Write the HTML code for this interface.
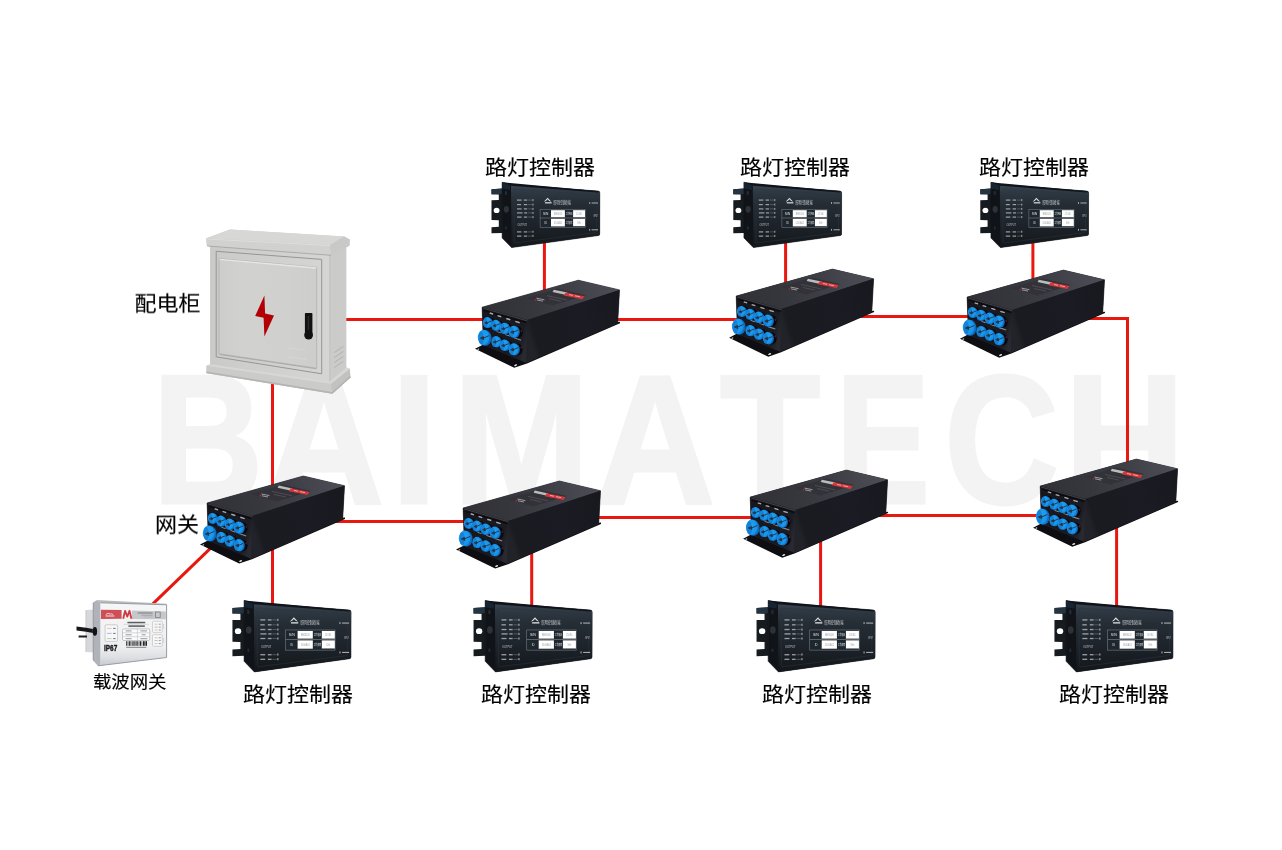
<!DOCTYPE html>
<html lang="zh-CN">
<head>
<meta charset="utf-8">
<title>路灯控制器 组网示意图</title>
<style>
html,body{margin:0;padding:0;background:#fff;}
body{width:1282px;height:850px;overflow:hidden;position:relative;font-family:"Liberation Sans","Noto Sans CJK SC",sans-serif;color:#000;}
#stage{will-change:transform;position:absolute;left:0;top:0;width:1282px;height:850px;overflow:hidden;background:#fff;}
#stage svg{position:absolute;left:0;top:0;display:block;}
.lb{-webkit-text-stroke:0.15px #000;transform:scaleY(0.94);transform-origin:50% 50%;position:absolute;white-space:nowrap;font-size:22px;line-height:22px;height:22px;color:#000;font-weight:400;letter-spacing:0;}
.lb.s{font-size:18.4px;line-height:18.4px;height:18.4px;}
svg text{font-family:"Liberation Sans","Noto Sans CJK SC",sans-serif;}
</style>
</head>
<body>
<div id="stage">
<svg width="1282" height="850" viewBox="0 0 1282 850">
<defs>
<linearGradient id="gTop" gradientUnits="userSpaceOnUse" x1="485" y1="310" x2="615" y2="288">
  <stop offset="0" stop-color="#313137"/>
  <stop offset="0.35" stop-color="#36363d"/>
  <stop offset="0.6" stop-color="#3d3d45"/>
  <stop offset="0.85" stop-color="#47474f"/>
  <stop offset="1" stop-color="#4c4c54"/>
</linearGradient>
<linearGradient id="gSide" gradientUnits="userSpaceOnUse" x1="527" y1="330" x2="619" y2="300">
  <stop offset="0" stop-color="#222229"/>
  <stop offset="0.06" stop-color="#1a1a21"/>
  <stop offset="0.6" stop-color="#1b1b23"/>
  <stop offset="1" stop-color="#18181f"/>
</linearGradient>
<linearGradient id="gFront" gradientUnits="userSpaceOnUse" x1="483" y1="330" x2="527" y2="342">
  <stop offset="0" stop-color="#17171d"/>
  <stop offset="0.85" stop-color="#1b1b22"/>
  <stop offset="1" stop-color="#292931"/>
</linearGradient>
<radialGradient id="gBlue" cx="0.42" cy="0.42" r="0.7">
  <stop offset="0" stop-color="#22a2f2"/>
  <stop offset="0.7" stop-color="#1896ec"/>
  <stop offset="1" stop-color="#0d78d0"/>
</radialGradient>
<linearGradient id="gCtrl" x1="0" y1="0" x2="0" y2="1">
  <stop offset="0" stop-color="#3a4752"/>
  <stop offset="0.12" stop-color="#2e3943"/>
  <stop offset="0.3" stop-color="#252d35"/>
  <stop offset="0.6" stop-color="#1e242b"/>
  <stop offset="1" stop-color="#13171b"/>
</linearGradient>
<linearGradient id="gCabFront" gradientUnits="userSpaceOnUse" x1="219" y1="300" x2="317" y2="300">
  <stop offset="0" stop-color="#cdcdcb"/>
  <stop offset="0.25" stop-color="#d1d1cf"/>
  <stop offset="0.7" stop-color="#d0d0ce"/>
  <stop offset="1" stop-color="#cdcdcb"/>
</linearGradient>
<linearGradient id="gCabBody" gradientUnits="userSpaceOnUse" x1="210" y1="300" x2="330" y2="300">
  <stop offset="0" stop-color="#cacac8"/>
  <stop offset="0.5" stop-color="#d0d0ce"/>
  <stop offset="1" stop-color="#d5d5d3"/>
</linearGradient>
<linearGradient id="gGw" x1="0" y1="0" x2="0" y2="1">
  <stop offset="0" stop-color="#f6f6f6"/>
  <stop offset="0.7" stop-color="#eeeff0"/>
  <stop offset="0.88" stop-color="#dcdee2"/>
  <stop offset="1" stop-color="#c4c8ce"/>
</linearGradient>
<filter id="soft" x="-5%" y="-5%" width="110%" height="110%" color-interpolation-filters="sRGB"><feGaussianBlur stdDeviation="0.45"/></filter>
<g id="box">
<path d="M475.0,348.8L483.4,344.4L526.1,361.8L617.6,322.0L620.0,321.8L620.0,323.2L527.0,363.4L514.2,367.8Z" fill="#0d0d12"/>
<polygon points="482.1,307.2 578.3,280.2 619.5,289.9 617.7,322.9 526.1,362.6 483.4,344.7" fill="#202028" stroke="#202028" stroke-width="0.6" stroke-linejoin="round"/>
<polygon points="482.1,307.2 578.3,280.2 619.5,289.9 527.2,320.1" fill="url(#gTop)"/>
<polygon points="482.1,307.2 527.2,320.1 526.1,362.6 483.4,344.7" fill="url(#gFront)"/>
<polygon points="527.2,320.1 619.5,289.9 617.7,322.9 526.1,362.6" fill="url(#gSide)"/>
<path d="M483.2,308.2L527.0,320.8" fill="none" stroke="#4a4a52" stroke-width="0.8"/>
<path d="M484.0,310.4L526.4,322.6" fill="none" stroke="#0c0c10" stroke-width="1.6"/>
<polygon points="527.0,298.2 557.5,288.6 586.0,295.2 552.0,305.6" fill="#323238"/>
<polygon points="553.8,289.8 567.4,292.6 566.2,295.0 552.6,292.0" fill="#b9bdbd"/>
<polygon points="565.6,292.4 584.4,296.2 582.4,299.2 563.8,295.4" fill="#d9363b"/>
<path d="M569.0,294.6l4.0,0.8M575.0,295.8l5.0,1.0" stroke="#e9b0b2" stroke-width="0.9" fill="none"/>
<path d="M534.6,299.8l1.6,0.3" stroke="#d0262c" stroke-width="1.1" fill="none"/>
<path d="M536.4,298.2l8.0,1.6M537.0,300.0l6.0,1.2" stroke="#b4b4b8" stroke-width="0.8" fill="none"/>
<path d="M547.0,295.6l20,4.4M549.0,298.6l12,2.6" stroke="#5c5c62" stroke-width="0.6" fill="none"/>
<g fill="#c2c2c8" opacity="0.85">
<rect x="489.6" y="312.8" width="3.6" height="1.4" transform="rotate(17 491.4 313.5)"/>
<rect x="497.5" y="315.5" width="3.8" height="1.4" transform="rotate(17 499.4 316.2)"/>
<rect x="506.2" y="318.4" width="4.2" height="1.4" transform="rotate(17 508.3 319.1)"/>
<rect x="515.2" y="321.4" width="4.6" height="1.4" transform="rotate(17 517.5 322.1)"/>
</g>
<g fill="#8a8a94">
<rect x="496.4" y="331.6" width="4.4" height="1.0" transform="rotate(19 498.6 332.1)"/>
<rect x="505.2" y="334.8" width="5.0" height="1.0" transform="rotate(19 507.7 335.3)"/>
<rect x="513.8" y="338.4" width="7.6" height="1.1" transform="rotate(19 517.6 339.0)"/>
</g>
<g fill="#08080c">
<ellipse cx="490.4" cy="323.0" rx="4.6" ry="5.6"/>
<ellipse cx="498.6" cy="325.8" rx="4.6" ry="5.6"/>
<ellipse cx="507.4" cy="328.8" rx="4.7" ry="5.7"/>
<ellipse cx="517.4" cy="332.2" rx="5.2" ry="6.0"/>
<ellipse cx="499.0" cy="342.0" rx="4.6" ry="5.6"/>
<ellipse cx="507.4" cy="345.6" rx="4.7" ry="5.7"/>
<ellipse cx="517.4" cy="349.6" rx="5.2" ry="6.0"/>
</g>
<ellipse cx="521.3" cy="330.9" rx="0.7" ry="1.3" fill="#5e1818"/>
<ellipse cx="521.3" cy="347.4" rx="0.7" ry="1.3" fill="#5e1818"/>
<g fill="#0c6cc0">
<ellipse cx="488.4" cy="322.8" rx="4.4" ry="5.3"/>
<ellipse cx="496.8" cy="325.6" rx="4.5" ry="5.4"/>
<ellipse cx="505.5" cy="328.7" rx="4.7" ry="5.6"/>
<ellipse cx="514.8" cy="332.1" rx="5.0" ry="6.0"/>
<ellipse cx="485.4" cy="338.0" rx="6.1" ry="7.8"/>
<ellipse cx="497.1" cy="341.9" rx="4.6" ry="5.5"/>
<ellipse cx="505.5" cy="345.5" rx="4.7" ry="5.6"/>
<ellipse cx="514.8" cy="349.6" rx="5.0" ry="6.0"/>
</g>
<g fill="url(#gBlue)">
<ellipse cx="487.2" cy="322.4" rx="4.3" ry="5.3"/>
<ellipse cx="495.6" cy="325.2" rx="4.4" ry="5.4"/>
<ellipse cx="504.3" cy="328.3" rx="4.6" ry="5.6"/>
<ellipse cx="513.6" cy="331.7" rx="4.9" ry="6.0"/>
<ellipse cx="483.7" cy="337.5" rx="5.9" ry="7.8"/>
<ellipse cx="495.9" cy="341.5" rx="4.5" ry="5.5"/>
<ellipse cx="504.3" cy="345.1" rx="4.6" ry="5.6"/>
<ellipse cx="513.6" cy="349.2" rx="4.9" ry="6.0"/>
</g>
<g fill="#0b6ec6" opacity="0.55">
<ellipse cx="485.4" cy="322.8" rx="1.9" ry="4.8"/>
<ellipse cx="493.7" cy="325.6" rx="2.0" ry="4.9"/>
<ellipse cx="502.4" cy="328.7" rx="2.0" ry="5.1"/>
<ellipse cx="511.5" cy="332.1" rx="2.2" ry="5.4"/>
<ellipse cx="481.2" cy="338.0" rx="2.6" ry="6.8"/>
<ellipse cx="494.0" cy="341.9" rx="2.0" ry="5.0"/>
<ellipse cx="502.4" cy="345.5" rx="2.0" ry="5.1"/>
<ellipse cx="511.5" cy="349.6" rx="2.2" ry="5.4"/>
</g>
<g fill="#2a3340" stroke="#2a3340" stroke-width="0.95" stroke-linecap="round" stroke-linejoin="round">
<path d="M485.0,322.8L486.9,321.7L487.2,323.6ZM487.1,322.8L490.9,321.2"/>
<path d="M493.4,325.6L495.3,324.5L495.6,326.5ZM495.5,325.6L499.4,323.9"/>
<path d="M501.9,328.7L504.0,327.6L504.3,329.6ZM504.2,328.7L508.3,327.0"/>
<path d="M511.1,332.1L513.3,330.9L513.6,333.1ZM513.5,332.1L517.8,330.3"/>
<path d="M480.7,338.0L483.3,336.6L483.7,339.2ZM483.6,338.0L488.8,335.8"/>
<path d="M493.6,341.9L495.6,340.8L495.9,342.8ZM495.8,341.9L499.8,340.2"/>
<path d="M501.9,345.5L504.0,344.4L504.3,346.4ZM504.2,345.5L508.3,343.8"/>
<path d="M511.1,349.6L513.3,348.4L513.6,350.6ZM513.5,349.6L517.8,347.8"/>
</g>
<ellipse cx="478.3" cy="349.2" rx="1.0" ry="0.6" fill="#d0d0d0" transform="rotate(-25 478.3 349.2)"/>
<ellipse cx="515.6" cy="365.2" rx="1.6" ry="0.8" fill="#e8e8e8" transform="rotate(-22 515.6 365.2)"/>

</g>
<g id="ctrl">
<path d="M-19.5,4.9L-8.4,4.3V48.6L-19.5,48.9V42.9L-12.2,42.4V36.0L-19.5,35.8V16.0L-12.2,15.8V10.2L-19.5,10.0Z" fill="#161b20"/>
<path d="M-19.5,4.9L-8.4,4.3V9.8L-19.5,10.0Z" fill="#243440"/>
<ellipse cx="-14.4" cy="26.1" rx="2.9" ry="2.6" fill="#ffffff"/>
<path d="M-8.9,-2.0L0,0L87.2,6.8Q88.8,7.0 88.8,8.6L88.7,49.6Q88.7,51.1 87.2,51.3L0.5,63.3L-8.9,53.6Z" fill="#101317" stroke="#101317" stroke-width="0.5"/>
<path d="M-8.9,-2.0L-1.0,-0.2V5.6L-8.9,4.2Z" fill="#172432"/>
<path d="M0,0L87.2,6.8Q88.8,7.0 88.8,8.6L88.7,49.6Q88.7,51.1 87.2,51.3L0.5,63.3Z" fill="url(#gCtrl)"/>
<path d="M-8.9,-2.0L88.0,6.9L87.4,8.2L0,1.4Z" fill="#10141a"/>
<path d="M4.0,5.0L84.6,10.6Q85.8,10.8 85.8,12.0L85.7,47.0Q85.7,48.2 84.6,48.4L4.4,58.6Q3.2,58.7 3.2,57.4L3.0,6.0Q3.0,5.0 4.0,5.0Z" fill="none" stroke="#2c343c" stroke-width="0.5"/>
<ellipse cx="-4.6" cy="25.0" rx="2.6" ry="3.4" fill="#2c3238"/>
<ellipse cx="-5.0" cy="8.6" rx="1.2" ry="2.2" fill="#242a32"/>
<ellipse cx="-5.0" cy="43.6" rx="1.0" ry="1.8" fill="#242a32"/>
<g fill="#b0b6bc" opacity="0.85">
<rect x="6.0" y="15.2" width="4.6" height="1.2"/><rect x="12.8" y="15.2" width="3.4" height="1.2"/><rect x="21.4" y="14.8" width="1.1" height="2.0"/>
<rect x="6.0" y="19.7" width="4.0" height="1.2"/><rect x="12.8" y="19.7" width="3.4" height="1.2"/><rect x="21.4" y="19.3" width="1.1" height="2.0"/>
<rect x="6.0" y="24.0" width="4.6" height="1.2"/><rect x="12.8" y="24.0" width="3.4" height="1.2"/><rect x="21.4" y="23.6" width="1.1" height="2.0"/>
<rect x="6.0" y="28.0" width="5.6" height="1.2"/><rect x="13.2" y="28.0" width="3.0" height="1.2"/><rect x="21.4" y="27.6" width="1.1" height="2.0"/>
<rect x="6.0" y="32.2" width="4.6" height="1.2"/><rect x="12.8" y="32.2" width="3.4" height="1.2"/><rect x="21.4" y="31.8" width="1.1" height="2.0"/>
<rect x="6.0" y="47.0" width="4.4" height="1.2"/><rect x="12.8" y="47.0" width="3.4" height="1.2"/><rect x="21.4" y="46.4" width="1.1" height="2.0"/>
<rect x="6.0" y="51.2" width="4.4" height="1.2"/><rect x="12.8" y="51.2" width="3.4" height="1.2"/><rect x="21.4" y="50.6" width="1.1" height="2.0"/>
</g>
<g stroke="#7c8288" stroke-width="0.5" fill="none">
<path d="M17,15.8h4M17,20.3h4M17,24.6h4M17,28.6h4M17,32.8h4M17,47.6h4M17,51.8h4"/>
</g>
<text x="6.6" y="41.4" font-size="3.6" fill="#c4c8cc" textLength="9.4" lengthAdjust="spacingAndGlyphs">OUTPUT</text>
<path d="M32.8,17.4L36.6,13.4L40.4,17.4L38.2,16.6L36.6,15.0L35.0,16.6Z" fill="#dcdee0"/>
<rect x="34.0" y="17.8" width="6.6" height="1.4" fill="#c4c7ca"/>
<text x="42.6" y="19.3" font-size="4.6" fill="#cfd2d4" textLength="17.2" lengthAdjust="spacingAndGlyphs" style="font-family:'Liberation Sans','Noto Sans CJK SC',sans-serif">照明控制终端</text>
<rect x="29.1" y="25.0" width="45.1" height="18.4" fill="#1e262e" stroke="#7c8690" stroke-width="0.5"/>
<path d="M29.1,33.7H74.2" stroke="#7c8288" stroke-width="0.6"/>
<rect x="40.0" y="25.9" width="13.9" height="7.0" fill="#ffffff"/>
<rect x="62.1" y="25.9" width="11.9" height="7.0" fill="#ffffff"/>
<rect x="40.0" y="34.5" width="13.9" height="7.6" fill="#ffffff"/>
<rect x="62.1" y="34.5" width="11.9" height="7.4" fill="#ffffff"/>
<g font-size="3.6" fill="#e4e6e8">
<text x="32.0" y="30.6" textLength="5.4" lengthAdjust="spacingAndGlyphs">S/N</text>
<text x="33.6" y="39.6" textLength="2.4" lengthAdjust="spacingAndGlyphs">ID</text>
</g>
<g font-size="3.4" fill="#e4e6e8" style="font-family:'Liberation Sans','Noto Sans CJK SC',sans-serif">
<text x="54.8" y="30.5" textLength="6.6" lengthAdjust="spacingAndGlyphs">工作电压</text>
<text x="54.8" y="39.5" textLength="6.6" lengthAdjust="spacingAndGlyphs">工作频率</text>
</g>
<g font-size="3.2" fill="#9a9ea4">
<text x="43.0" y="30.4" textLength="8.2" lengthAdjust="spacingAndGlyphs">BM3020</text>
<text x="43.0" y="39.5" textLength="8.2" lengthAdjust="spacingAndGlyphs">0100A01</text>
<text x="65.0" y="30.4" textLength="6.0" lengthAdjust="spacingAndGlyphs">220 VAC</text>
<text x="66.2" y="39.5" textLength="3.6" lengthAdjust="spacingAndGlyphs">50Hz</text>
</g>
<g fill="#a8acb0">
<rect x="78.2" y="17.8" width="1.0" height="1.8"/><rect x="80.6" y="18.2" width="6.4" height="1.0"/>
<rect x="78.2" y="44.6" width="1.0" height="1.8"/><rect x="80.6" y="45.0" width="6.4" height="1.0"/>
</g>
<text x="82.6" y="32.8" font-size="2.6" fill="#c0c4c8" textLength="4.2" lengthAdjust="spacingAndGlyphs">INPUT</text>

</g>
</defs>
<rect x="0" y="0" width="1282" height="850" fill="#ffffff"/>
<text y="502.9" font-size="183.4" font-weight="700" fill="#f3f3f3" stroke="#f3f3f3" stroke-width="3.0" stroke-linejoin="miter" style="font-family:'Liberation Sans',sans-serif"><tspan x="152.5" textLength="110.6" lengthAdjust="spacingAndGlyphs">B</tspan><tspan x="263.9" textLength="120.0" lengthAdjust="spacingAndGlyphs">A</tspan><tspan x="391.0" textLength="46.1" lengthAdjust="spacingAndGlyphs">I</tspan><tspan x="452.9" textLength="136.5" lengthAdjust="spacingAndGlyphs">M</tspan><tspan x="594.9" textLength="120.2" lengthAdjust="spacingAndGlyphs">A</tspan><tspan x="720.1" textLength="100.1" lengthAdjust="spacingAndGlyphs">T</tspan><tspan x="836.1" textLength="93.8" lengthAdjust="spacingAndGlyphs">E</tspan><tspan x="944.2" textLength="114.7" lengthAdjust="spacingAndGlyphs">C</tspan><tspan x="1064.2" textLength="120.8" lengthAdjust="spacingAndGlyphs">H</tspan></text>
<g fill="none" stroke="#e8170f" stroke-width="3">
<path d="M340,319.6H490"/>
<path d="M610,319.6H745"/>
<path d="M856,316.5H975"/>
<path d="M1082,318.5H1127.5V470"/>
<path d="M272.5,375V610"/>
<path d="M330,521.5H470"/>
<path d="M590,517.5H757"/>
<path d="M875,515.4H1047"/>
<path d="M531.7,545V610"/>
<path d="M820.6,535V610"/>
<path d="M1116.6,520V610"/>
<path d="M544.4,240V295"/>
<path d="M785.6,240V285"/>
<path d="M1032.9,240V280"/>
<path d="M214,544.9L150,606.6"/>
</g>
<g filter="url(#soft)">
<g id="cabinet">
<polygon points="206.2,238.2 230.0,229.5 344.1,236.6 349.8,239.6 349.4,245.8 346.2,247.2 346.2,367.6 349.8,368.8 350.4,377.4 332.3,393.8 206.5,373.2 206.5,365.7 210.2,364.2 210.2,246.0 206.9,245.7" fill="#cdcdcb"/>
<!-- body side -->
<polygon points="329.8,250 346.2,243 346.2,370 329.8,385" fill="#cbccc9"/>
<!-- body front -->
<polygon points="210.2,244 329.8,252 329.8,385 210.2,367" fill="url(#gCabBody)"/>
<!-- door frame -->
<polygon points="216.2,251.3 321.7,259.4 321.7,373.8 216.2,356.9" fill="url(#gCabBody)" stroke="#969694" stroke-width="1.0"/>
<polygon points="219.0,258.6 316.7,267.3 316.7,368.2 219.0,353.8" fill="url(#gCabFront)" stroke="#b0b0ae" stroke-width="0.8"/>
<path d="M219.6,259.4L316.2,268.0" stroke="#e6e6e4" stroke-width="1.3" fill="none"/>
<path d="M219.8,354.4L316.4,368.8" stroke="#a8a29d" stroke-width="0.8" fill="none"/>
<path d="M329.8,255V384" stroke="#bebfbb" stroke-width="0.8" fill="none"/>
<path d="M287,347.6L304,350.0M287,356.6L306,359.4" stroke="#dadad8" stroke-width="0.7" fill="none"/>
<!-- vents -->
<g stroke="#b4b5b1" stroke-width="1.1" fill="none">
<path d="M334.2,352.6L343.4,346.4M334.2,357.6L343.4,351.4M334.2,362.6L343.4,356.4M334.2,367.6L343.4,361.4"/>
</g>
<!-- top cap -->
<polygon points="206.2,238.2 230.0,229.5 344.1,236.6 330.0,245.1" fill="#d7d7d5"/>
<polygon points="206.2,238.2 330.0,245.1 331.0,255.1 206.9,245.7" fill="#d1d1cf"/>
<polygon points="330.0,245.1 344.1,236.6 349.8,239.6 349.4,245.8 331.0,255.1" fill="#c9cac7"/>
<path d="M206.6,239.0L330.0,245.6" stroke="#dededc" stroke-width="1" fill="none"/>
<path d="M207.2,246.0L331.0,255.3" stroke="#aaa6a2" stroke-width="0.9" fill="none"/>
<!-- base -->
<polygon points="206.5,365.7 331.0,383.8 332.3,393.8 206.5,373.2" fill="#cbcbc9"/>
<polygon points="331.0,383.8 349.8,368.8 350.4,377.4 332.3,393.8" fill="#c2c3c0"/>
<polygon points="206.5,365.7 210.2,364.2 329.8,381.6 346.2,367.6 349.8,368.8 331.0,383.8" fill="#d7d7d5"/>
<path d="M206.5,372.2L332.3,392.8L350.4,376.6" fill="none" stroke="#b4b4b2" stroke-width="1.6"/>
<!-- bolt -->
<path d="M264.4,295.6L255.2,316.1L263.6,317.8L264.4,336.5L274.0,315.4L265.1,313.6Z" fill="#b20006"/>
<!-- handle -->
<rect x="304.9" y="312.9" width="7.5" height="22" rx="0.8" fill="#111111"/>
<circle cx="308.6" cy="335.1" r="4.4" fill="#111111"/>
<rect x="307.6" y="316" width="1.6" height="14" fill="#2a2a2a"/>
</g>
<use href="#box" transform="translate(0.0,0.0)"/>
<use href="#box" transform="translate(254.1,-11.1)"/>
<use href="#box" transform="translate(485.0,-10.1)"/>
<use href="#box" transform="translate(-275.0,195.8)"/>
<use href="#box" transform="translate(-19.0,200.8)"/>
<use href="#box" transform="translate(268.1,189.9)"/>
<use href="#box" transform="translate(558.1,178.9)"/>
<use href="#ctrl" transform="translate(511.0,184.3) scale(1.000)"/>
<use href="#ctrl" transform="translate(752.8,184.3) scale(1.000)"/>
<use href="#ctrl" transform="translate(999.8,184.3) scale(1.000)"/>
<use href="#ctrl" transform="translate(253.8,602.6) scale(1.095)"/>
<use href="#ctrl" transform="translate(494.9,602.6) scale(1.095)"/>
<use href="#ctrl" transform="translate(777.9,602.6) scale(1.095)"/>
<use href="#ctrl" transform="translate(1075.8,602.6) scale(1.095)"/>
<g id="gateway">
<polygon points="85.9,610.1 93.6,609.6 93.6,652.6 85.9,652.1" fill="#d5d7db"/>
<path d="M85.9,610.1V652.1" stroke="#c2c4c8" stroke-width="0.8"/>
<polygon points="93.0,602.5 97.0,600.1 100.6,602.6 100.6,665.4 97.9,666.0 93.0,660.2" fill="#b0b4ba"/>
<path d="M76.5,626.6Q86,627.6 96,629.4V633.6Q86,631.8 76.5,630.6Z" fill="#17171b"/>
<path d="M78.6,635.5L87,635.6V637.6L78.6,637.5Z" fill="#1f1f24"/>
<path d="M93.2,603.0V660" stroke="#8a8e94" stroke-width="0.7"/>
<ellipse cx="94.9" cy="631.4" rx="2.2" ry="4.4" fill="#121216"/>
<polygon points="97.0,600.1 166.6,603.7 166.6,605.2 100.6,603.0" fill="#b9bdc1"/>
<polygon points="100.6,602.8 166.6,604.8 166.6,657.5 100.6,665.6" fill="url(#gGw)"/>
<path d="M100.6,602.8L166.6,604.8V657.5L98.2,665.8" fill="none" stroke="#90949a" stroke-width="0.9"/>
<polygon points="100.9,609.7 121.6,610.0 121.6,618.8 100.9,619.0" fill="#cf4f57"/>
<polygon points="131.9,610.6 165.9,611.4 165.9,619.2 131.9,619.0" fill="#c6c7cb"/>
<path d="M123.2,618.8L125.1,610.8L127.3,616.6L129.5,610.8L131.4,618.8" fill="none" stroke="#cf3a42" stroke-width="1.8" stroke-linejoin="round"/>
<path d="M105.8,614.6q2.2,-2.2 4.4,-0.6q1.6,-0.6 3.0,0.6" fill="none" stroke="#f4dcde" stroke-width="0.9"/>
<rect x="105.6" y="615.4" width="8.8" height="1.2" fill="#efc8cb"/>
<rect x="137.6" y="612.4" width="15.0" height="1.2" fill="#85878d"/>
<rect x="141.4" y="614.8" width="11.2" height="0.9" fill="#a0a2a8"/>
<rect x="143.4" y="616.6" width="9.2" height="0.8" fill="#b0b2b8"/>
<rect x="155.4" y="612.0" width="4.8" height="5.4" fill="none" stroke="#74767c" stroke-width="0.7"/>
<rect x="105.1" y="624.8" width="12.5" height="16.6" rx="1.0" fill="#f7f7f7" stroke="#aeb0b6" stroke-width="0.6"/>
<path d="M107,628.4h4.6" stroke="#e0a090" stroke-width="0.6"/><path d="M107,633.4h4.6" stroke="#8a90c8" stroke-width="0.6"/><path d="M107,638.6h4.6" stroke="#90c070" stroke-width="0.6"/>
<path d="M113.2,628.4h2.4M113.2,633.4h2.4M113.2,638.6h2.4" stroke="#4a4a4e" stroke-width="0.8"/>
<rect x="127.4" y="621.8" width="17.8" height="1.5" fill="#5a5c62"/>
<rect x="128.4" y="625.4" width="16.4" height="1.4" fill="#4e5056"/>
<path d="M123.4,624.4h25.6" stroke="#b8babe" stroke-width="0.4"/>
<rect x="122.5" y="628.9" width="27.3" height="11.6" rx="1.4" fill="#fbfbfb" stroke="#a2a4a8" stroke-width="0.6"/>
<path d="M122.5,632.8h27.3M122.5,636.7h27.3M137.4,628.9v11.6" stroke="#b4b6ba" stroke-width="0.5"/>
<path d="M125.6,630.9h6M125.6,634.8h6M125.6,638.7h6M140.4,630.9h6.6M141.6,634.8h4M140.4,638.7h7" stroke="#7c7e84" stroke-width="0.8"/>
<g fill="#26262a">
<rect x="126.2" y="641.2" width="0.9" height="4.6"/><rect x="127.7" y="641.2" width="0.5" height="4.6"/><rect x="128.8" y="641.2" width="1.1" height="4.6"/><rect x="130.5" y="641.2" width="0.6" height="4.6"/><rect x="131.7" y="641.2" width="0.9" height="4.6"/><rect x="133.2" y="641.2" width="0.6" height="4.6"/><rect x="134.4" y="641.2" width="1.1" height="4.6"/><rect x="136.1" y="641.2" width="0.6" height="4.6"/><rect x="137.3" y="641.2" width="0.9" height="4.6"/><rect x="138.8" y="641.2" width="0.6" height="4.6"/><rect x="140.0" y="641.2" width="1.1" height="4.6"/><rect x="141.7" y="641.2" width="0.5" height="4.6"/><rect x="143.0" y="641.2" width="1.7" height="4.6"/><rect x="145.4" y="641.2" width="1.6" height="4.6"/>
</g>
<rect x="126.2" y="646.8" width="20.2" height="1.0" fill="#7e8086"/>
<rect x="152.5" y="621.3" width="9.8" height="11.1" rx="0.9" fill="#f8f8f8" stroke="#b8babe" stroke-width="0.6"/>
<rect x="152.5" y="634.7" width="9.8" height="11.6" rx="0.9" fill="#f8f8f8" stroke="#b8babe" stroke-width="0.6"/>
<path d="M154.6,624.2h3M154.6,630.0h3M154.6,637.8h3" stroke="#d0a070" stroke-width="0.6"/>
<path d="M154.6,627.1h3M154.6,640.6h3" stroke="#8090c8" stroke-width="0.6"/>
<path d="M154.6,643.6h3" stroke="#90c070" stroke-width="0.6"/>
<path d="M158.8,624.2h2M158.8,627.1h2M158.8,630.0h2M158.8,637.8h2M158.8,640.6h2M158.8,643.6h2" stroke="#5a5c60" stroke-width="0.6"/>
<path d="M163.6,624v5M163.6,638v5" stroke="#c0c2c6" stroke-width="0.6"/>
<text x="104.0" y="650.9" font-size="9.0" font-weight="700" fill="#1e1e22" stroke="#1e1e22" stroke-width="0.45" textLength="13.2" lengthAdjust="spacingAndGlyphs">IP67</text>
</g>
</g>
</svg>
<div class="lb" style="left:485px;top:156.8px">路灯控制器</div>
<div class="lb" style="left:740px;top:156.8px">路灯控制器</div>
<div class="lb" style="left:979px;top:156.8px">路灯控制器</div>
<div class="lb" style="left:134.4px;top:293.2px">配电柜</div>
<div class="lb" style="left:154.9px;top:514.0px">网关</div>
<div class="lb s" style="left:92.9px;top:673.0px">载波网关</div>
<div class="lb" style="left:243px;top:684.3px">路灯控制器</div>
<div class="lb" style="left:481px;top:684.3px">路灯控制器</div>
<div class="lb" style="left:762px;top:684.3px">路灯控制器</div>
<div class="lb" style="left:1059px;top:684.3px">路灯控制器</div>
</div>
</body>
</html>
